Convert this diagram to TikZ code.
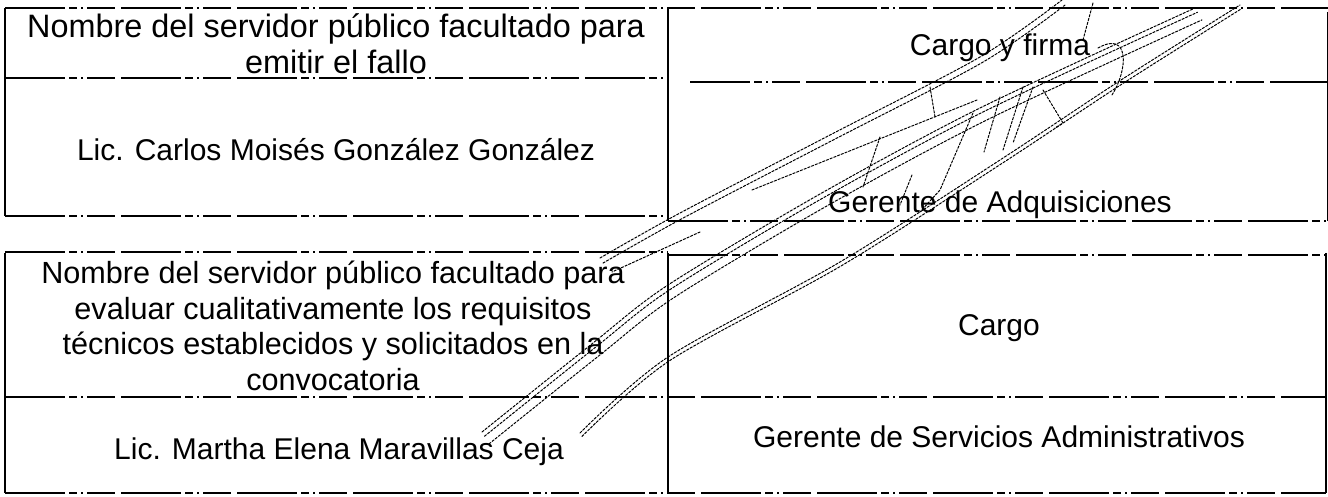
\documentclass[tikz,border=0pt]{standalone}
\usepackage{fontspec}
\setmainfont{Liberation Sans}
\usepackage{tikz}
\usetikzlibrary{positioning}

\begin{document}
\begin{tikzpicture}[x=0.5pt,y=-0.5pt]
          \useasboundingbox (0,0) rectangle (1328,497);

          \tikzstyle{every node}=[inner sep=0pt,align=center,font=\fontsize{15}{17.8}\selectfont]
          \tikzstyle{hline}=[line width=0.8pt,dash pattern=on 30pt off 2pt on 4pt off 2pt on 1pt off 2pt on 14pt off 3pt]
          \tikzstyle{vline}=[line width=0.8pt]
          \tikzstyle{firma}=[line width=0.5pt,dash pattern=on 1.2pt off 0.8pt,line cap=round]
          \tikzstyle{headA}=[font=\fontsize{16.2}{17.8}\selectfont]
          \tikzstyle{headB}=[font=\fontsize{15.3}{17.8}\selectfont]

          % primera tabla
          \draw[hline] (5,8) -- (1328,8);
          \draw[hline] (5,78) -- (668,78);
          \draw[hline] (690,82) -- (1328,82);
          \draw[hline] (5,216) -- (668,216);
          \draw[hline] (668,221) -- (1328,221);
          \draw[vline] (5,8) -- (5,216);
          \draw[vline] (668,8) -- (668,221);
          \draw[vline,line width=0.4pt] (1327,12) -- (1327,221);

          \node[headA] (hdrA) at (336,44)
          {Nombre del servidor público facultado para\\emitir el fallo};
          \node (nameA) at (336,150) {Lic. Carlos Moisés González González};
          \node (cargoA) at (1000,48) {Cargo y firma};
          \node (posA) at (1000,205) {Gerente de Adquisiciones};

          % segunda tabla
          \draw[hline] (5,252) -- (668,252);
          \draw[hline] (668,255) -- (1326,255);
          \draw[hline] (5,397) -- (1326,397);
          \draw[hline] (5,493) -- (1326,493);
          \foreach \x in {5,668,1326} {
            \draw[vline] (\x,253) -- (\x,493);
          }

          \node[headB] (hdrB) at (333,326)
          {Nombre del servidor público facultado para\\evaluar cualitativamente los requisitos\\técnicos establecidos y solicitados en la\\convocatoria};
          \node (nameB) at (339,452) {Lic. Martha Elena Maravillas Ceja};
          \node (cargoB) at (999,328) {Cargo};
          \node (posB) at (999,437) {Gerente de Servicios Administrativos};

          % firma
          \foreach \d in {0,6} {
            \draw[firma,shift={(0.5*\d,0.85*\d)}] plot[smooth,tension=0.5]
            coordinates {(600,258) (680,213) (830,135) (980,57) (1062,0)};
          }
          \foreach \d in {0,5,14} {
            \draw[firma,shift={(0.5*\d,0.85*\d)}] plot[smooth,tension=0.5]
            coordinates {(482,432) (593,343) (668,285) (820,194) (980,108) (1195,8)};
          }
          \foreach \d in {0,4} {
            \draw[firma,shift={(0.5*\d,0.85*\d)}] plot[smooth,tension=0.5]
            coordinates {(580,433) (668,357) (840,262) (1000,160) (1121,80) (1240,5)};
          }
          \draw[firma] (752,190) -- (977,100);
          \draw[firma] (700,232) -- (612,272);
          \draw[firma] (1093,3) -- (1083,40);
          \draw[firma] (1098,48) .. controls (1130,30) and (1128,70) .. (1112,95);
          \draw[firma] (930,87) -- (935,117);
          \draw[firma] (973,113) -- (940,190) -- (920,212);
          \draw[firma] (1000,97) -- (984,152);
          \draw[firma] (1023,87) -- (1003,150);
          \draw[firma] (1033,87) -- (1013,143);
          \draw[firma] (1043,90) -- (1063,123) -- (1055,128);
          \draw[firma] (880,137) -- (863,187);
          \draw[firma] (912,175) -- (900,205);
        \end{tikzpicture}
\end{document}
